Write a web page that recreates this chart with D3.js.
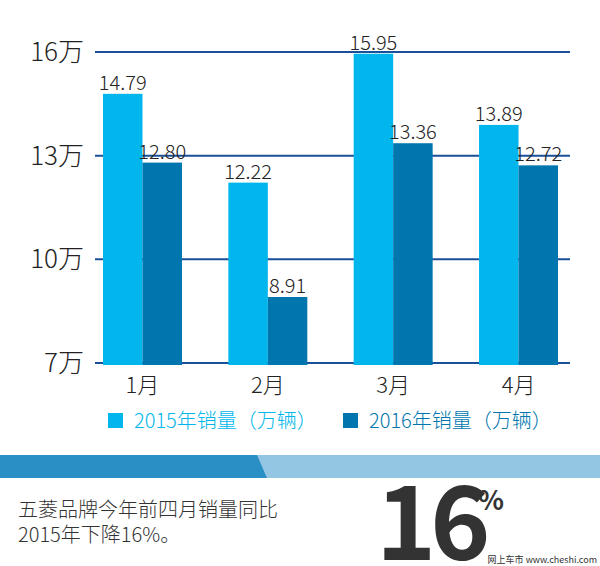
<!DOCTYPE html><html><head><meta charset="utf-8"><script src="https://cdn.jsdelivr.net/npm/d3@7"></script>
<style>body{margin:0;background:#fff}text{font-family:"Noto Sans CJK SC","Open Sans",sans-serif}</style></head><body>
<svg id="c" width="600" height="566"></svg>
<script>
const months=["1月","2月","3月","4月"];
const s2015=[14.79,12.22,15.95,13.89];
const s2016=[12.80,8.91,13.36,12.72];
const ticks=[7,10,13,16];
const tickLabels=["7万","10万","13万","16万"];
const seriesNames=["2015年销量（万辆）","2016年销量（万辆）"];
const colors=["#00b6ec","#0176ae"];
const svg=d3.select("#c");
const y=d3.scaleLinear().domain([7,16]).range([363,52]);
const x=d3.scaleBand().domain(months).range([103,558]).paddingInner(0.37).paddingOuter(0);
svg.selectAll(".g").data(ticks).join("line").attr("x1",95).attr("x2",570).attr("y1",d=>y(d)).attr("y2",d=>y(d)).attr("stroke","#1a4f9a").attr("stroke-width",2);
svg.selectAll(".tl").data(ticks).join("text").attr("x",84).attr("y",d=>y(d)+9).attr("text-anchor","end").attr("font-size",26).attr("font-weight",300).attr("fill","#222").text((d,i)=>tickLabels[i]);
[s2015,s2016].forEach((s,k)=>{
 const bw=x.bandwidth()/2;
 svg.append("g").selectAll("rect").data(s).join("rect").attr("x",(d,i)=>x(months[i])+k*bw).attr("width",bw).attr("y",d=>y(d)).attr("height",d=>y(7)-y(d)+2).attr("fill",colors[k]);
 svg.append("g").selectAll("text").data(s).join("text").attr("x",(d,i)=>x(months[i])+k*bw+bw/2).attr("y",d=>y(d)-4).attr("text-anchor","middle").attr("font-size",20).attr("font-weight",300).attr("fill","#222").text(d=>d.toFixed(2));
});
svg.selectAll(".m").data(months).join("text").attr("x",d=>x(d)+x.bandwidth()/2).attr("y",393).attr("text-anchor","middle").attr("font-size",22).attr("font-weight",300).attr("fill","#222").text(d=>d);
[108,343].forEach((lx,k)=>{
 svg.append("rect").attr("x",lx).attr("y",413).attr("width",15).attr("height",15).attr("fill",colors[k]);
 svg.append("text").attr("x",lx+26).attr("y",428).attr("font-size",20).attr("font-weight",300).attr("fill",colors[k]).text(seriesNames[k]);
});
svg.append("polygon").attr("points","0,455 600,455 600,478 0,478").attr("fill","#93c6e3");
svg.append("polygon").attr("points","0,455 257,455 267,478 0,478").attr("fill","#2a8fc4");
svg.append("text").attr("x",18).attr("y",517).attr("font-size",20).attr("font-weight",300).attr("fill","#333").text("五菱品牌今年前四月销量同比");
svg.append("text").attr("x",18).attr("y",542).attr("font-size",20).attr("font-weight",300).attr("fill","#333").text("2015年下降16%。");
svg.append("text").attr("x",376).attr("y",560).attr("font-size",102).attr("font-weight","bold").attr("letter-spacing",-6).attr("font-family","'Open Sans'").attr("fill","#333").text("16");
svg.append("text").attr("x",478).attr("y",510).attr("font-size",27).attr("font-weight","bold").attr("font-family","'Open Sans'").attr("fill","#333").text("%");
svg.append("text").attr("x",597).attr("y",563).attr("text-anchor","end").attr("font-size",9).attr("fill","#333").text("网上车市 www.cheshi.com");
</script></body></html>
